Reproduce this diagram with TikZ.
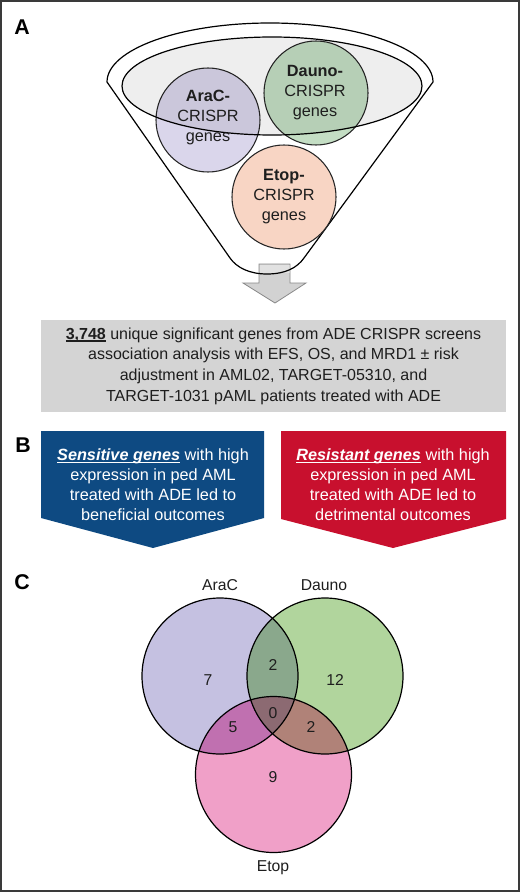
\documentclass[tikz,border=0pt]{standalone}
\usepackage{fontspec}
\setmainfont{Liberation Sans}
\definecolor{frameC}{HTML}{3A3A3A}
\definecolor{txtC}{HTML}{1E1E1E}
\definecolor{araF}{HTML}{DAD6EB}
\definecolor{daunoF}{HTML}{C4DEC4}
\definecolor{etopF}{HTML}{F8D5C4}
\definecolor{boxF}{HTML}{D4D4D4}
\definecolor{arrF}{HTML}{D2D2D2}
\definecolor{arrD}{HTML}{8A8A8A}
\definecolor{blueF}{HTML}{0E4A82}
\definecolor{redF}{HTML}{C8102E}
\definecolor{vA}{HTML}{C5C1E1}
\definecolor{vD}{HTML}{B1D59D}
\definecolor{vE}{HTML}{F0A0C8}
\definecolor{vAD}{HTML}{8AA88C}
\definecolor{vAE}{HTML}{C070B0}
\definecolor{vDE}{HTML}{B08278}
\definecolor{vADE}{HTML}{8C6A72}
\newcommand\ulx[1]{\setbox0=\hbox{#1}\rlap{\rule[-1.8pt]{\wd0}{0.8pt}}\box0\relax}
\begin{document}
\begin{tikzpicture}[x=0.75pt,y=-0.75pt,
  panel/.style={font=\fontsize{16pt}{18pt}\selectfont\bfseries, text=black},
  ftext/.style={align=center, text=txtC, font=\fontsize{12.2pt}{15pt}\selectfont},
  btext/.style={align=center, text=txtC, font=\fontsize{12pt}{15.5pt}\selectfont},
  wtext/.style={align=center, text=white, font=\fontsize{12.2pt}{15pt}\selectfont},
  vlab/.style={text=txtC, font=\fontsize{11.8pt}{13pt}\selectfont},
  fcirc/.style={draw=black!85, line width=0.8pt},
  vline/.style={draw=black, line width=0.9pt}]
\useasboundingbox (0,0) rectangle (520,892);
\fill[white] (0,0) rectangle (520,892);
\draw[frameC, line width=1.5pt] (1,1) rectangle (519,891);

% panel letters
\node[panel] (pA) at (22,27) {A};
\node[panel] (pB) at (23,445) {B};
\node[panel] (pC) at (22,582) {C};

% arrow below funnel
\draw[fill=arrF, draw=arrD, line width=0.6pt]
  (259,264) -- (290,264) -- (290,283) -- (306,283) -- (275,303) -- (243,283) -- (259,283) -- cycle;
\fill[white, fill opacity=0.35] (259.5,264.5) rectangle (289.5,272.5);

% funnel outline
\draw[black, line width=0.9pt] (107,82) arc[start angle=180, end angle=0, x radius=122.25pt, y radius=44.25pt]
  -- (304,258) .. controls (297,268) and (285,274) .. (267,274)
  .. controls (250,274) and (237,268) .. (230,258) -- cycle;

% circles in funnel
\coordinate (cAra) at (208,120);
\coordinate (cDau) at (316,93);
\coordinate (cEto) at (284,197);
\filldraw[fill=araF, fcirc] (cAra) circle[radius=39pt];
\filldraw[fill=daunoF, fcirc] (cDau) circle[radius=39pt];
\filldraw[fill=etopF, fcirc] (cEto) circle[radius=39pt];

% inner ellipse (translucent)
\coordinate (cEll) at (272,86);
\fill[black, fill opacity=0.065] (cEll) ellipse[x radius=112.5pt, y radius=36.75pt];
\draw[black, line width=0.9pt] (cEll) ellipse[x radius=112.5pt, y radius=36.75pt];

\node[ftext] (tAra) at (208,118) {\textbf{AraC-}\\CRISPR\\genes};
\node[ftext] (tDau) at (315,93) {\textbf{Dauno-}\\CRISPR\\genes};
\node[ftext] (tEto) at (284,197) {\textbf{Etop-}\\CRISPR\\genes};

% grey box
\fill[boxF] (41,320) rectangle (506,412);
\node[btext] (tBox) at (273.5,366) {\ulx{\textbf{3,748}} unique significant genes from ADE CRISPR screens\\association analysis with EFS, OS, and MRD1 ± risk\\adjustment in AML02, TARGET-05310, and\\TARGET-1031 pAML patients treated with ADE};

% blue and red pentagons
\fill[blueF] (41,431) -- (264,431) -- (264,518) -- (153,548) -- (41,518) -- cycle;
\fill[redF] (281,431) -- (506,431) -- (506,519) -- (393,548) -- (281,519) -- cycle;
\node[wtext] (tSen) at (153,485) {\ulx{\textbf{\textit{Sensitive genes}}} with high\\expression in ped AML\\treated with ADE led to\\beneficial outcomes};
\node[wtext] (tRes) at (393,485) {\ulx{\textbf{\textit{Resistant genes}}} with high\\expression in ped AML\\treated with ADE led to\\detrimental outcomes};

% Venn diagram
\coordinate (vcA) at (220,676);
\coordinate (vcD) at (325,676);
\coordinate (vcE) at (273.5,774.5);
\def\vr{58.5pt}
\fill[vA] (vcA) circle[radius=\vr];
\fill[vD] (vcD) circle[radius=\vr];
\fill[vE] (vcE) circle[radius=\vr];
\begin{scope}\clip (vcA) circle[radius=\vr]; \fill[vAD] (vcD) circle[radius=\vr]; \end{scope}
\begin{scope}\clip (vcA) circle[radius=\vr]; \fill[vAE] (vcE) circle[radius=\vr]; \end{scope}
\begin{scope}\clip (vcD) circle[radius=\vr]; \fill[vDE] (vcE) circle[radius=\vr]; \end{scope}
\begin{scope}\clip (vcA) circle[radius=\vr]; \clip (vcD) circle[radius=\vr]; \fill[vADE] (vcE) circle[radius=\vr]; \end{scope}
\draw[vline] (vcA) circle[radius=\vr];
\draw[vline] (vcD) circle[radius=\vr];
\draw[vline] (vcE) circle[radius=\vr];

\node[vlab] (lA) at (220,585) {AraC};
\node[vlab] (lD) at (324,585) {Dauno};
\node[vlab] (lE) at (273,868) {Etop};
\node[vlab] (n7) at (208,680) {7};
\node[vlab] (n2a) at (273,665) {2};
\node[vlab] (n12) at (335,680) {12};
\node[vlab] (n0) at (273,713) {0};
\node[vlab] (n5) at (233,727) {5};
\node[vlab] (n2b) at (311,727) {2};
\node[vlab] (n9) at (273,777) {9};
\end{tikzpicture}
\end{document}
